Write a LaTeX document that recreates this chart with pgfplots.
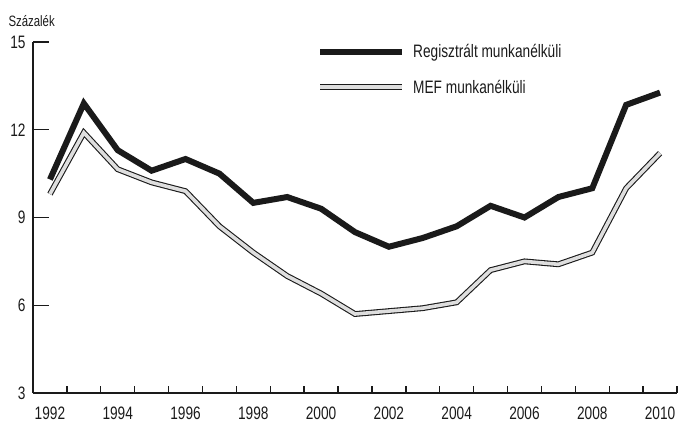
\documentclass[border=0pt]{standalone}
\usepackage{fontspec}
\setmainfont{Liberation Sans}[FakeStretch=0.76]
\usepackage{pgfplots}
\pgfplotsset{compat=1.18}
\definecolor{ink}{HTML}{1A1A1A}
\definecolor{mefgray}{HTML}{DEDEDE}
\begin{document}
\begin{tikzpicture}[font=\fontsize{18bp}{21bp}\selectfont]
\useasboundingbox (-33bp,-32bp) rectangle (646bp,393bp);
\begin{axis}[
  at={(0,0)}, anchor=south west,
  scale only axis, width=644bp, height=351bp,
  xmin=1991.5, xmax=2010.5, ymin=3, ymax=15,
  axis x line=bottom, axis y line=left,
  axis line style={-, line width=1.4bp, ink},
  xtick={1992,1994,...,2010},
  xticklabels={1992,1994,1996,1998,2000,2002,2004,2006,2008,2010},
  minor xtick={1992.5,1993.5,1994.5,1995.5,1996.5,1997.5,1998.5,1999.5,2000.5,2001.5,2002.5,2003.5,2004.5,2005.5,2006.5,2007.5,2008.5,2009.5,2010.5},
  ytick={3,6,9,12,15},
  tick align=inside,
  major tick length=16bp, minor tick length=7bp,
  major x tick style={draw=none},
  minor x tick style={line width=1.4bp, ink},
  major y tick style={line width=1.4bp, ink},
  xticklabel style={yshift=-10bp, text=ink},
  yticklabel style={xshift=-4bp, text=ink},
  /pgf/number format/assume math mode=true,
  clip=false,
  legend cell align=left,
  legend image code/.code={\draw[#1] (0bp,0bp) -- (82bp,0bp);},
  legend style={draw=none, fill=none, at={(axis description cs:0.441,1.0)}, anchor=north west,
    inner sep=0pt, row sep=17bp, column sep=6bp, text=ink},
]
\addplot[ink, line width=6bp, line join=miter] coordinates {
(1992,10.3) (1993,12.9) (1994,11.3) (1995,10.6) (1996,11.0) (1997,10.5)
(1998,9.5) (1999,9.7) (2000,9.3) (2001,8.5) (2002,8.0) (2003,8.3)
(2004,8.7) (2005,9.4) (2006,9.0) (2007,9.7) (2008,10.0) (2009,12.85) (2010,13.27)};
\addlegendentry{Regisztrált munkanélküli}
\addplot[mefgray, line width=3.6bp, line join=miter, preaction={draw=ink, line width=5.8bp}] coordinates {
(1992,9.8) (1993,11.9) (1994,10.65) (1995,10.2) (1996,9.9) (1997,8.7)
(1998,7.8) (1999,7.0) (2000,6.4) (2001,5.7) (2002,5.8) (2003,5.9)
(2004,6.1) (2005,7.2) (2006,7.5) (2007,7.4) (2008,7.8) (2009,10.0) (2010,11.2)};
\addlegendentry{MEF munkanélküli}
\end{axis}
\node[anchor=west, font=\fontsize{15bp}{17bp}\selectfont, text=ink] at (-28bp,372bp) {Százalék};
\end{tikzpicture}
\end{document}
